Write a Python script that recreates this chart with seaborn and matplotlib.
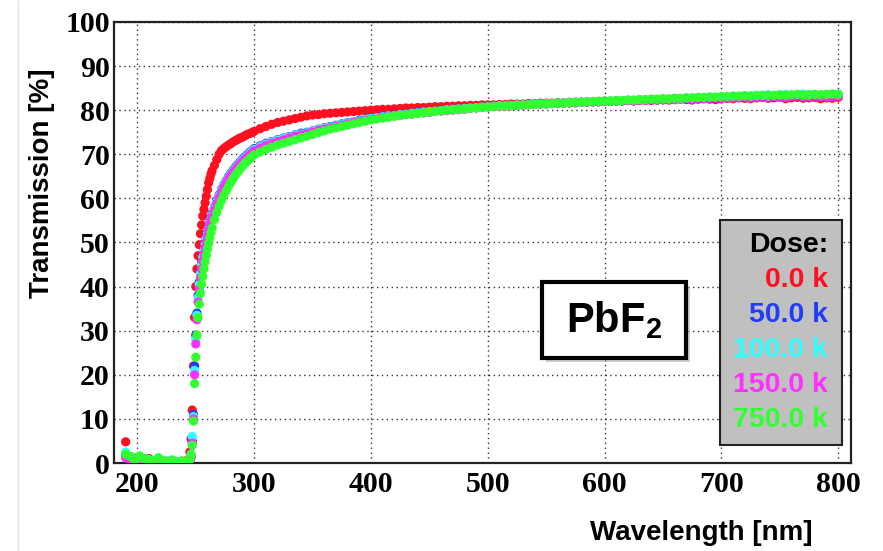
import numpy as np
import pandas as pd
import matplotlib
matplotlib.use("Agg")
import matplotlib.pyplot as plt
import seaborn as sns
from matplotlib.patches import Rectangle
from matplotlib.lines import Line2D
from matplotlib.ticker import MultipleLocator

# wavelength grid [nm]: coarse on the flat parts, 1 nm on the edge
wavelength = np.concatenate([np.arange(190, 243, 4), np.arange(244, 265),
                             np.arange(266, 301, 2), np.arange(305, 801, 5)])

# transmission [%], one list per dose
t_0k = [4.8, 1.5, 0.8, 1.2, 0.5, 1.0, 0.3, 0.6, 0.2, 0.4, 0.1, 0.3, 0.2, 0.5,
        0.8, 2.5, 5.5, 12, 22, 33, 40, 44, 47, 49.5, 52, 54, 56, 57.5, 59, 60.5, 62, 63.5, 64.5, 65.5, 66.3,
        67.5, 68.8, 70, 70.8, 71.3, 71.7, 72.1, 72.4, 72.8, 73.1, 73.4, 73.7, 73.9, 74.2, 74.5, 74.7, 74.9, 75.2,
        75.8, 76.3, 76.8, 77.2, 77.5, 77.8, 78.1, 78.4, 78.7, 78.9, 79.0, 79.2, 79.3, 79.4, 79.5, 79.6, 79.7, 79.8, 79.9, 80.0,
        80.1, 80.2, 80.2, 80.3, 80.4, 80.5, 80.5, 80.6, 80.6, 80.7, 80.8, 80.8, 80.9, 80.9, 81.0, 81.0, 81.1, 81.1, 81.2, 81.2,
        81.2, 81.3, 81.3, 81.4, 81.4, 81.4, 81.5, 81.5, 81.6, 81.6, 81.6, 81.7, 81.7, 81.8, 81.8, 81.8, 81.9, 81.9, 82.0, 82.0,
        82.0, 82.1, 82.1, 82.2, 82.1, 82.2, 82.3, 82.2, 82.3, 82.4, 82.3, 82.4, 82.5, 82.4, 82.3, 82.5, 82.6, 82.5, 82.4, 82.6,
        82.7, 82.6, 82.8, 82.7, 82.6, 82.8, 82.9, 82.7, 82.8, 82.9, 82.6, 82.8, 82.9, 82.7, 82.8, 82.9, 82.6, 82.8, 82.7, 82.9]

t_50k = [1.8, 1.0, 0.5, 0.8, 0.3, 0.6, 0.4, 0.2, 0.5, 0.1, 0.3, 0.2, 0.4, 0.3,
         0.3, 0.6, 1.5, 5, 11, 22, 29, 34, 38, 41, 43.5, 45.5, 47, 48.5, 50, 51.2, 52.3, 53.5, 54.6, 55.6, 56.5,
         58, 59.5, 60.8, 62, 63, 64, 64.9, 65.7, 66.4, 67.1, 67.7, 68.3, 68.9, 69.4, 69.9, 70.4, 70.8, 71.3,
         71.9, 72.5, 72.9, 73.3, 73.7, 74.0, 74.4, 74.8, 75.0, 75.3, 75.7, 76.0, 76.3, 76.6, 76.9, 77.2, 77.4, 77.7, 78.0, 78.2,
         78.4, 78.6, 78.7, 78.9, 79.0, 79.2, 79.3, 79.5, 79.6, 79.7, 79.8, 80.0, 80.1, 80.2, 80.3, 80.4, 80.5, 80.6, 80.7, 80.8,
         80.9, 80.9, 81.0, 81.1, 81.1, 81.2, 81.3, 81.3, 81.4, 81.4, 81.5, 81.6, 81.6, 81.7, 81.7, 81.8, 81.8, 81.9, 81.9, 82.0,
         82.0, 82.1, 82.1, 82.2, 82.2, 82.3, 82.3, 82.4, 82.3, 82.4, 82.5, 82.5, 82.6, 82.5, 82.7, 82.6, 82.8, 82.7, 82.8, 82.9,
         82.8, 83.0, 82.9, 83.1, 83.0, 83.2, 83.1, 83.4, 83.2, 83.3, 83.1, 83.3, 83.4, 83.2, 83.5, 83.3, 83.4, 83.2, 83.3, 83.5]

t_100k = [2.5, 0.8, 1.2, 0.4, 0.9, 0.2, 0.6, 0.3, 0.1, 0.5, 0.2, 0.4, 0.1, 0.3,
          0.4, 0.8, 2, 6, 10.5, 21, 28, 33.5, 37.5, 40.5, 43, 45, 46.7, 48.2, 49.6, 50.9, 52, 53.2, 54.3, 55.3, 56.2,
          57.8, 59.3, 60.6, 61.8, 62.8, 63.8, 64.7, 65.5, 66.2, 66.9, 67.5, 68.1, 68.7, 69.2, 69.7, 70.2, 70.6, 71.1,
          71.7, 72.3, 72.8, 73.2, 73.6, 73.9, 74.3, 74.6, 74.9, 75.2, 75.6, 75.9, 76.2, 76.5, 76.8, 77.1, 77.4, 77.6, 77.9, 78.1,
          78.3, 78.5, 78.7, 78.8, 79.0, 79.1, 79.3, 79.4, 79.6, 79.7, 79.8, 79.9, 80.1, 80.2, 80.3, 80.4, 80.5, 80.6, 80.7, 80.8,
          80.9, 81.0, 81.0, 81.1, 81.2, 81.2, 81.3, 81.4, 81.4, 81.5, 81.5, 81.6, 81.7, 81.7, 81.8, 81.8, 81.9, 81.9, 82.0, 82.1,
          82.1, 82.2, 82.2, 82.3, 82.2, 82.4, 82.4, 82.5, 82.4, 82.6, 82.5, 82.7, 82.6, 82.8, 82.7, 82.9, 82.8, 83.0, 82.9, 83.1,
          83.0, 83.2, 83.1, 83.3, 83.2, 83.4, 83.3, 83.5, 83.3, 83.5, 83.6, 83.4, 83.5, 83.7, 83.5, 83.6, 83.4, 83.6, 83.5, 83.7]

t_150k = [1.2, 0.6, 1.0, 0.3, 0.7, 0.5, 0.2, 0.8, 0.3, 0.2, 0.6, 0.1, 0.3, 0.2,
          0.2, 0.5, 1.2, 4.5, 10, 20, 27, 32.5, 36.5, 39.5, 42, 44, 45.8, 47.4, 48.9, 50.2, 51.5, 52.8, 54, 55, 55.9,
          57.4, 58.9, 60.2, 61.4, 62.5, 63.5, 64.4, 65.2, 65.9, 66.6, 67.2, 67.8, 68.4, 68.9, 69.4, 69.9, 70.3, 70.8,
          71.4, 72.0, 72.5, 72.9, 73.3, 73.7, 74.1, 74.4, 74.7, 75.0, 75.4, 75.7, 76.0, 76.3, 76.6, 76.9, 77.2, 77.5, 77.7, 77.9,
          78.1, 78.3, 78.5, 78.7, 78.8, 79.0, 79.1, 79.3, 79.4, 79.5, 79.7, 79.8, 79.9, 80.0, 80.1, 80.2, 80.4, 80.5, 80.6, 80.7,
          80.8, 80.8, 80.9, 81.0, 81.1, 81.1, 81.2, 81.3, 81.3, 81.4, 81.5, 81.5, 81.6, 81.6, 81.7, 81.8, 81.8, 81.9, 81.9, 82.0,
          82.0, 82.1, 82.1, 82.2, 82.1, 82.3, 82.2, 82.3, 82.4, 82.3, 82.5, 82.4, 82.5, 82.6, 82.5, 82.7, 82.6, 82.7, 82.8, 82.7,
          82.9, 82.8, 82.9, 83.0, 82.8, 83.0, 83.1, 82.9, 83.1, 83.0, 82.9, 83.1, 83.2, 83.0, 83.1, 83.2, 83.0, 83.1, 83.0, 83.2]

t_750k = [2.0, 1.5, 0.4, 1.6, 1.0, 0.8, 0.5, 1.2, 0.6, 0.3, 0.7, 0.2, 0.5, 0.4,
          0.5, 0.9, 1.8, 4, 9.5, 18, 24, 29, 33, 36, 38.5, 40.5, 42.3, 44, 45.6, 47.1, 48.5, 49.8, 51, 52.2, 53.3,
          55.2, 56.8, 58.2, 59.5, 60.6, 61.7, 62.7, 63.6, 64.5, 65.3, 66, 66.7, 67.3, 67.9, 68.4, 68.9, 69.4, 69.9,
          70.5, 71.1, 71.6, 72.1, 72.5, 72.9, 73.3, 73.7, 74.1, 74.5, 74.9, 75.3, 75.7, 76.0, 76.3, 76.6, 76.9, 77.2, 77.5, 77.8,
          78.0, 78.2, 78.4, 78.6, 78.8, 79.0, 79.1, 79.3, 79.4, 79.6, 79.7, 79.9, 80.0, 80.1, 80.2, 80.3, 80.4, 80.5, 80.6, 80.7,
          80.8, 80.9, 81.0, 81.0, 81.1, 81.2, 81.2, 81.3, 81.4, 81.4, 81.5, 81.6, 81.6, 81.7, 81.8, 81.8, 81.9, 82.0, 82.0, 82.1,
          82.1, 82.2, 82.2, 82.3, 82.3, 82.4, 82.4, 82.5, 82.5, 82.6, 82.6, 82.7, 82.7, 82.8, 82.8, 82.9, 82.9, 83.0, 83.0, 83.1,
          83.1, 83.2, 83.2, 83.3, 83.2, 83.3, 83.4, 83.3, 83.4, 83.5, 83.4, 83.5, 83.6, 83.4, 83.5, 83.6, 83.5, 83.6, 83.7, 83.6]

doses = ["0.0 k", "50.0 k", "100.0 k", "150.0 k", "750.0 k"]
series = [t_0k, t_50k, t_100k, t_150k, t_750k]
colors = ["#ff0f1f", "#1f3cff", "#30ffff", "#ff30ff", "#30ff30"]

df = pd.concat([pd.DataFrame({"Wavelength": wavelength, "Transmission": t, "Dose": d})
                for d, t in zip(doses, series)], ignore_index=True)

sns.set_style("white")
plt.rcParams["text.color"] = "black"
plt.rcParams["xtick.color"] = "black"
plt.rcParams["ytick.color"] = "black"
plt.rcParams["mathtext.fontset"] = "custom"
plt.rcParams["mathtext.rm"] = "Liberation Sans:bold"
plt.rcParams["mathtext.bf"] = "Liberation Sans:bold"

fig = plt.figure(figsize=(8.83, 5.51), dpi=100)
ax = fig.add_axes([0.1291, 0.1597, 0.8347, 0.8004])

sns.scatterplot(data=df, x="Wavelength", y="Transmission", hue="Dose",
                palette=dict(zip(doses, colors)), s=44, edgecolor="none",
                linewidth=0, legend=False, ax=ax, zorder=3)

ax.set_xlim(180, 811)
ax.set_ylim(0, 100)
ax.xaxis.set_major_locator(MultipleLocator(100))
ax.xaxis.set_minor_locator(MultipleLocator(20))
ax.yaxis.set_major_locator(MultipleLocator(10))
ax.yaxis.set_minor_locator(MultipleLocator(2))
ax.grid(True, which="major", linestyle=(0, (1, 2.5)), color="#333333", linewidth=1.0)
ax.set_xlabel("")
ax.set_ylabel("")
ax.tick_params(axis="both", which="major", direction="in", color="#222222", width=1.5,
               top=False, right=False)
ax.tick_params(axis="y", which="major", length=14, pad=3)
ax.tick_params(axis="x", which="major", length=9, pad=6)
ax.tick_params(axis="y", which="minor", direction="in", length=6, width=1.3, color="#222222")
ax.tick_params(axis="x", which="minor", direction="in", length=5, width=1.3, color="#222222")
for lab in ax.get_xticklabels() + ax.get_yticklabels():
    lab.set_fontfamily("Liberation Serif")
    lab.set_fontweight("bold")
    lab.set_fontsize(21.5)
    lab.set_color("black")
for sp in ax.spines.values():
    sp.set_color("#222222")
    sp.set_linewidth(1.6)

fig.text(813 / 883, 1 - 533 / 551, "Wavelength [nm]", ha="right", va="center",
         fontsize=20, fontweight="bold", family="Liberation Sans")
fig.text(42 / 883, 1 - 68 / 551, "Transmission [%]", ha="center", va="top", rotation=90,
         fontsize=20, fontweight="bold", family="Liberation Sans")

# dose legend box
ax.add_patch(Rectangle((720 / 883, 1 - 445 / 551), 122 / 883, 225 / 551,
                       transform=fig.transFigure, facecolor="#c0c0c0",
                       edgecolor="#222222", linewidth=1.5, zorder=5))
fig.text(828 / 883, 1 - 245 / 551, "Dose:", ha="right", va="center",
         fontsize=20.5, fontweight="bold", family="Liberation Sans", color="black", zorder=6)
for i, (d, c) in enumerate(zip(doses, colors)):
    fig.text(828 / 883, 1 - (280 + 35 * i) / 551, d, ha="right", va="center",
             fontsize=20.5, fontweight="bold", family="Liberation Sans", color=c, zorder=6)

# PbF2 label box with shadow
ax.add_patch(Rectangle((546 / 883, 1 - 362 / 551), 144 / 883, 76 / 551,
                       transform=fig.transFigure, facecolor="#b0b0b0", edgecolor="none",
                       alpha=0.6, zorder=5))
ax.add_patch(Rectangle((542 / 883, 1 - 358 / 551), 144 / 883, 76 / 551,
                       transform=fig.transFigure, facecolor="white", edgecolor="black",
                       linewidth=3, zorder=6))
fig.text(614 / 883, 1 - 320 / 551, r"PbF$_\mathbf{2}$", ha="center", va="center",
         fontsize=30, fontweight="bold", family="Liberation Sans", zorder=7)

# faint slide border on the left
fig.add_artist(Line2D([18 / 883, 18 / 883], [0, 1], transform=fig.transFigure,
                      color="#e4e4e4", linewidth=1))

fig.savefig("out.png", dpi=100)
